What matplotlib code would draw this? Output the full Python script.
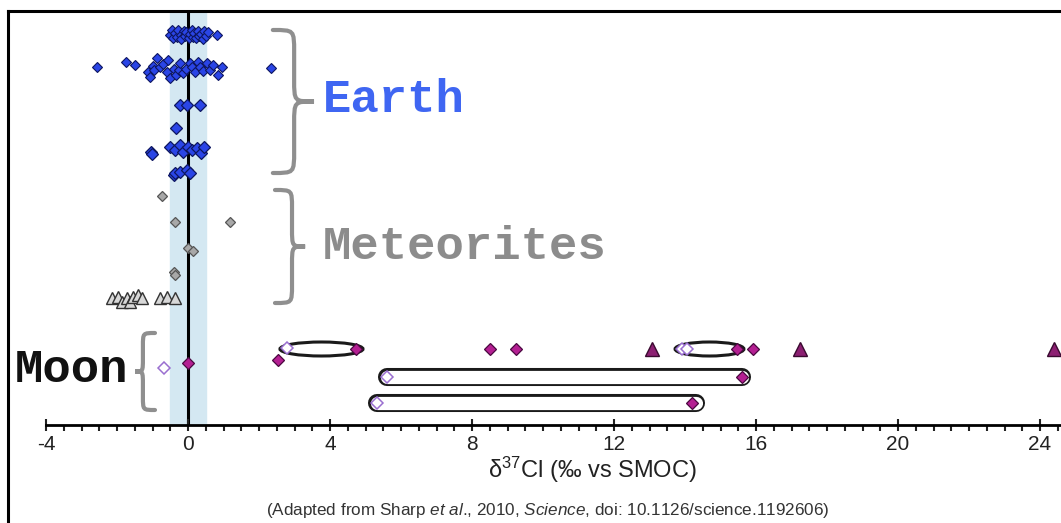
import matplotlib
matplotlib.use("Agg")
import matplotlib.pyplot as plt
from matplotlib.path import Path
from matplotlib.patches import PathPatch, Ellipse
from matplotlib.lines import Line2D
from matplotlib.ticker import FixedLocator

plt.rcParams['mathtext.fontset'] = 'custom'
plt.rcParams['mathtext.rm'] = 'Liberation Sans'
plt.rcParams['mathtext.it'] = 'Liberation Sans:italic'

# ---- data (d37Cl permil vs SMOC, y = row position) ----
# Earth
earth_small_x = [-0.51, -0.45, -0.42, -0.37, -0.3, -0.28, -0.2, -0.19, -0.12, -0.09, -0.05, 0.02, 0.05,
                 0.1, 0.14, 0.18, 0.22, 0.28, 0.3, 0.38, 0.42, 0.46, 0.5, 0.56, 0.82,
                 -2.55, -1.75, -1.49, -1.12, -1.07, -1.0, -0.95, -0.88, -0.79, -0.7, -0.6, -0.55, -0.51,
                 -0.4, -0.35, -0.25, -0.23, -0.13, -0.05, 0.06, 0.12, 0.2, 0.28, 0.34, 0.42, 0.53,
                 0.62, 0.7, 0.85, 0.95, 2.34]
earth_small_y = [39.0, 39.5, 38.7, 39.2, 38.8, 39.5, 39.0, 38.6, 39.4, 38.9, 39.3, 38.7, 39.1,
                 39.5, 38.8, 39.2, 38.7, 39.4, 38.9, 39.1, 38.6, 39.4, 38.9, 39.3, 39.0,
                 35.77, 36.33, 36.0, 35.33, 34.83, 35.9, 35.5, 36.67, 35.83, 36.1, 35.33, 36.5, 34.67,
                 35.6, 35.0, 35.5, 36.17, 35.17, 35.6, 36.17, 35.8, 35.33, 36.3, 35.83, 35.4, 36.17,
                 35.5, 36.0, 35.0, 35.83, 35.67]
earth_big_x = [-0.23, -0.03, 0.34,
               -0.34,
               -1.04, -1.02, -0.51, -0.37, -0.23, -0.13, 0.01, 0.1, 0.24, 0.38, 0.45,
               -0.4, -0.37, -0.23, -0.04, 0.06]
earth_big_y = [32.0, 32.0, 32.0,
               29.7,
               27.35, 27.1, 27.83, 27.5, 28.0, 27.33, 27.83, 27.5, 27.67, 27.17, 27.77,
               25.0, 25.17, 25.33, 25.5, 25.17]

# Meteorites
met_dia_x = [-0.73, -0.37, 1.18, 0.0, 0.15, -0.39, -0.36]
met_dia_y = [22.9, 20.3, 20.3, 17.7, 17.4, 15.3, 15.0]
met_tri_x = [-2.15, -1.96, -1.87, -1.73, -1.63, -1.54, -1.4, -1.3, -0.79, -0.58, -0.37]
met_tri_y = [12.67, 12.83, 12.33, 12.67, 12.33, 12.83, 13.0, 12.67, 12.67, 12.83, 12.67]

# Moon
moon_fill_x = [0.0, 2.54, 4.73, 8.5, 9.24, 15.46, 15.92, 15.6, 14.2]
moon_fill_y = [6.2, 6.5, 7.6, 7.6, 7.6, 7.6, 7.6, 4.8, 2.2]
moon_open_x = [-0.68, 2.79, 5.6, 5.31, 13.92, 14.05]
moon_open_y = [5.7, 7.7, 4.8, 2.2, 7.6, 7.6]
moon_tri_x = [13.07, 17.24, 24.4]
moon_tri_y = [7.6, 7.6, 7.6]
# paired analyses linked by capsules and ellipses
pair_bars = [(5.6, 15.6, 4.8), (5.31, 14.3, 2.2)]
pair_ellipses = [(2.79, 4.73, 7.6), (13.92, 15.46, 7.6)]

xticks = [-4, 0, 4, 8, 12, 16, 20, 24]
minor_ticks = [-4 + 0.5 * i for i in range(58)]


def brace(ax, xl, xm, xt, ytop, ybot, r, color='#8f8f8f'):
    ymid = (ytop + ybot) / 2
    verts = [(xl, ytop), (xm, ytop), (xm, ytop), (xm, ytop - r),
             (xm, ymid + r),
             (xm, ymid), (xm, ymid), (xt, ymid),
             (xm, ymid), (xm, ymid), (xm, ymid - r),
             (xm, ybot + r),
             (xm, ybot), (xm, ybot), (xl, ybot)]
    codes = [Path.MOVETO, Path.CURVE4, Path.CURVE4, Path.CURVE4,
             Path.LINETO,
             Path.CURVE4, Path.CURVE4, Path.CURVE4,
             Path.CURVE4, Path.CURVE4, Path.CURVE4,
             Path.LINETO,
             Path.CURVE4, Path.CURVE4, Path.CURVE4]
    ax.add_patch(PathPatch(Path(verts, codes), facecolor='none', edgecolor=color,
                           lw=3, capstyle='round', zorder=3))


W, H = 1061, 523
fig = plt.figure(figsize=(W / 100, H / 100), dpi=100)
ax = fig.add_axes([0, (H - 425) / H, 1, (425 - 11) / H])
scale = 35.5
ax.set_xlim(-188 / scale, (W - 188) / scale)
ax.set_ylim(0, 41.4)

ax.axvspan(-0.5, 0.5, color='#d4e8f2', zorder=0)
ax.axvline(0, color='black', lw=2.2, zorder=1)

# capsules and ellipses
for x1, x2, y in pair_bars:
    ax.plot([x1, x2], [y, y], color='#1a1a1a', lw=13, solid_capstyle='round', zorder=2)
    ax.plot([x1, x2], [y, y], color='white', lw=9.5, solid_capstyle='round', zorder=2.1)
for x1, x2, y in pair_ellipses:
    ax.add_patch(Ellipse(((x1 + x2) / 2, y), (x2 - x1) + 0.4, 1.4, facecolor='white',
                         edgecolor='#1a1a1a', lw=2.2, zorder=2))

# earth
ax.plot(earth_small_x, earth_small_y, 'D', ms=4.6, mfc='#2a45e6', mec='#0d1660', mew=0.8, zorder=4)
ax.plot(earth_big_x, earth_big_y, 'D', ms=5.8, mfc='#2a45e6', mec='#0d1660', mew=0.9, zorder=4)
# meteorites
ax.plot(met_dia_x, met_dia_y, 'D', ms=5.2, mfc='#a8a8a8', mec='#555555', mew=0.9, zorder=4)
ax.plot(met_tri_x, met_tri_y, '^', ms=8, mfc='#d8d8d8', mec='#333333', mew=1.0, zorder=4)
# moon
ax.plot(moon_tri_x, moon_tri_y, '^', ms=10, mfc='#8c1f72', mec='#3a0a30', mew=1.0, zorder=4)
ax.plot(moon_open_x, moon_open_y, 'D', ms=6, mfc='white', mec='#9a6fd0', mew=1.1, zorder=4)
ax.plot(moon_fill_x, moon_fill_y, 'D', ms=6, mfc='#b41f92', mec='#4a0840', mew=0.9, zorder=4)

# braces and group labels
brace(ax, 2.39, 2.99, 3.55, 39.5, 25.2, 2.2)
brace(ax, 2.45, 2.93, 3.3, 23.5, 12.2, 1.8)
brace(ax, -0.93, -1.27, -1.49, 9.2, 1.5, 1.3)
grp_font = dict(family='Liberation Mono', fontweight='bold', fontsize=34, va='center')
ax.text(3.8, 32.5, 'Earth', color='#3f66f2', ha='left', **grp_font)
ax.text(3.8, 17.8, 'Meteorites', color='#8c8c8c', ha='left', **grp_font)
ax.text(-4.87, 5.5, 'Moon', color='#111111', ha='left', **grp_font)

# axis
for s in ['left', 'right', 'top']:
    ax.spines[s].set_visible(False)
ax.spines['bottom'].set_linewidth(2)
ax.spines['bottom'].set_bounds(-4, (W - 188) / scale)
ax.set_yticks([])
ax.set_xticks(xticks)
ax.set_xticklabels([str(t) for t in xticks])
ax.xaxis.set_minor_locator(FixedLocator(minor_ticks))
ax.tick_params(axis='x', which='major', direction='inout', length=9, width=1.5,
               labelsize=15, pad=3, colors='#222222')
ax.tick_params(axis='x', which='minor', direction='out', length=4, width=1.5, colors='#222222')
for lab in ax.get_xticklabels():
    lab.set_fontfamily('Liberation Sans')

fig.text(592 / W, 1 - 470 / H, r'δ$^{37}$Cl (‰ vs SMOC)', ha='center', va='center',
         fontsize=17, family='Liberation Sans', color='#222222')
fig.text(548 / W, 1 - 510 / H,
         r'(Adapted from Sharp $\it{et\ al}$., 2010, $\it{Science}$, doi: 10.1126/science.1192606)',
         ha='center', va='center', fontsize=12.3, family='Liberation Sans', color='#333333')

# figure border (left and top)
fig.add_artist(Line2D([8 / W, 8 / W], [0, 1 - 11 / H], color='black', lw=2.2, transform=fig.transFigure))
fig.add_artist(Line2D([8 / W, 1], [1 - 11 / H, 1 - 11 / H], color='black', lw=2.2, transform=fig.transFigure))

fig.savefig('out.png', dpi=100)
